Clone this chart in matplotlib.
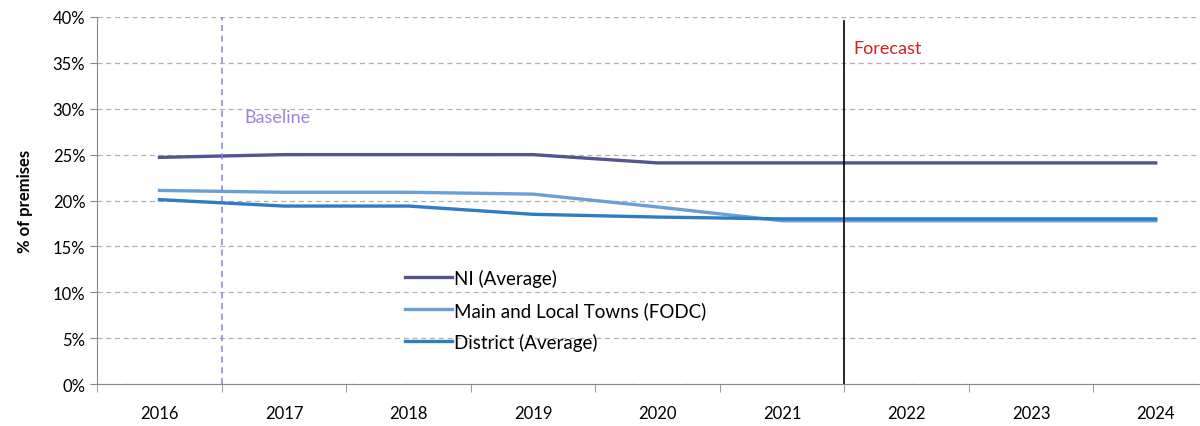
import matplotlib
matplotlib.use("Agg")
import matplotlib.pyplot as plt
import numpy as np
from matplotlib.ticker import FuncFormatter, MultipleLocator

plt.rcParams["font.family"] = ["Lato", "DejaVu Sans"]

years = ["2016", "2017", "2018", "2019", "2020", "2021", "2022", "2023", "2024"]
ni_avg = [24.7, 25.0, 25.0, 25.0, 24.1, 24.1, 24.1, 24.1, 24.1]
main_towns = [21.1, 20.9, 20.9, 20.7, 19.3, 17.8, 17.8, 17.8, 17.8]
district_avg = [20.1, 19.4, 19.4, 18.5, 18.2, 18.0, 18.0, 18.0, 18.0]


def main():
    fig = plt.figure(figsize=(12, 4.27), dpi=100)
    ax = fig.add_axes([0.081, 0.098, 0.934, 0.86])
    x = np.arange(len(years))

    ax.plot(x, ni_avg, color="#54548f", lw=2.4, label="NI (Average)")
    ax.plot(x, main_towns, color="#6aa0d4", lw=2.4, label="Main and Local Towns (FODC)")
    ax.plot(x, district_avg, color="#2e7cc4", lw=2.4, label="District (Average)")

    # baseline / forecast markers
    ax.axvline(0.5, color="#8a80e0", lw=1.1, ls=(0, (4, 3)))
    ax.plot([5.5, 5.5], [0, 39.6], color="black", lw=1.2)
    ax.text(0.68, 28.6, "Baseline", color="#a184d8", fontsize=13)
    ax.text(5.57, 36.1, "Forecast", color="#d42020", fontsize=13)

    ax.set_xlim(-0.5, 8.5)
    ax.set_ylim(0, 40)
    ax.set_xticks(x)
    ax.set_xticklabels(years)
    ax.set_xticks(np.arange(-0.5, 9, 1), minor=True)
    ax.tick_params(axis="x", which="major", length=0, pad=15, labelsize=12)
    ax.tick_params(axis="x", which="minor", length=6, color="#888888")
    ax.yaxis.set_major_locator(MultipleLocator(5))
    ax.yaxis.set_major_formatter(FuncFormatter(lambda v, p: f"{v:.0f}%"))
    ax.tick_params(axis="y", length=5, color="#888888", labelsize=12)
    ax.set_ylabel("% of premises", fontsize=12, fontweight="bold", labelpad=14)

    ax.grid(axis="y", color="#b0b0b0", ls=(0, (4, 3)), lw=0.9)
    ax.set_axisbelow(True)
    for s in ["top", "right"]:
        ax.spines[s].set_visible(False)
    ax.spines["left"].set_color("#888888")
    ax.spines["bottom"].set_color("#888888")

    ax.legend(loc="upper left", bbox_to_anchor=(0.26, 0.36), frameon=False,
              fontsize=13.5, handlelength=2.5, handletextpad=0.1, labelspacing=0.75)

    fig.savefig("out.png", dpi=100)


if __name__ == "__main__":
    main()
